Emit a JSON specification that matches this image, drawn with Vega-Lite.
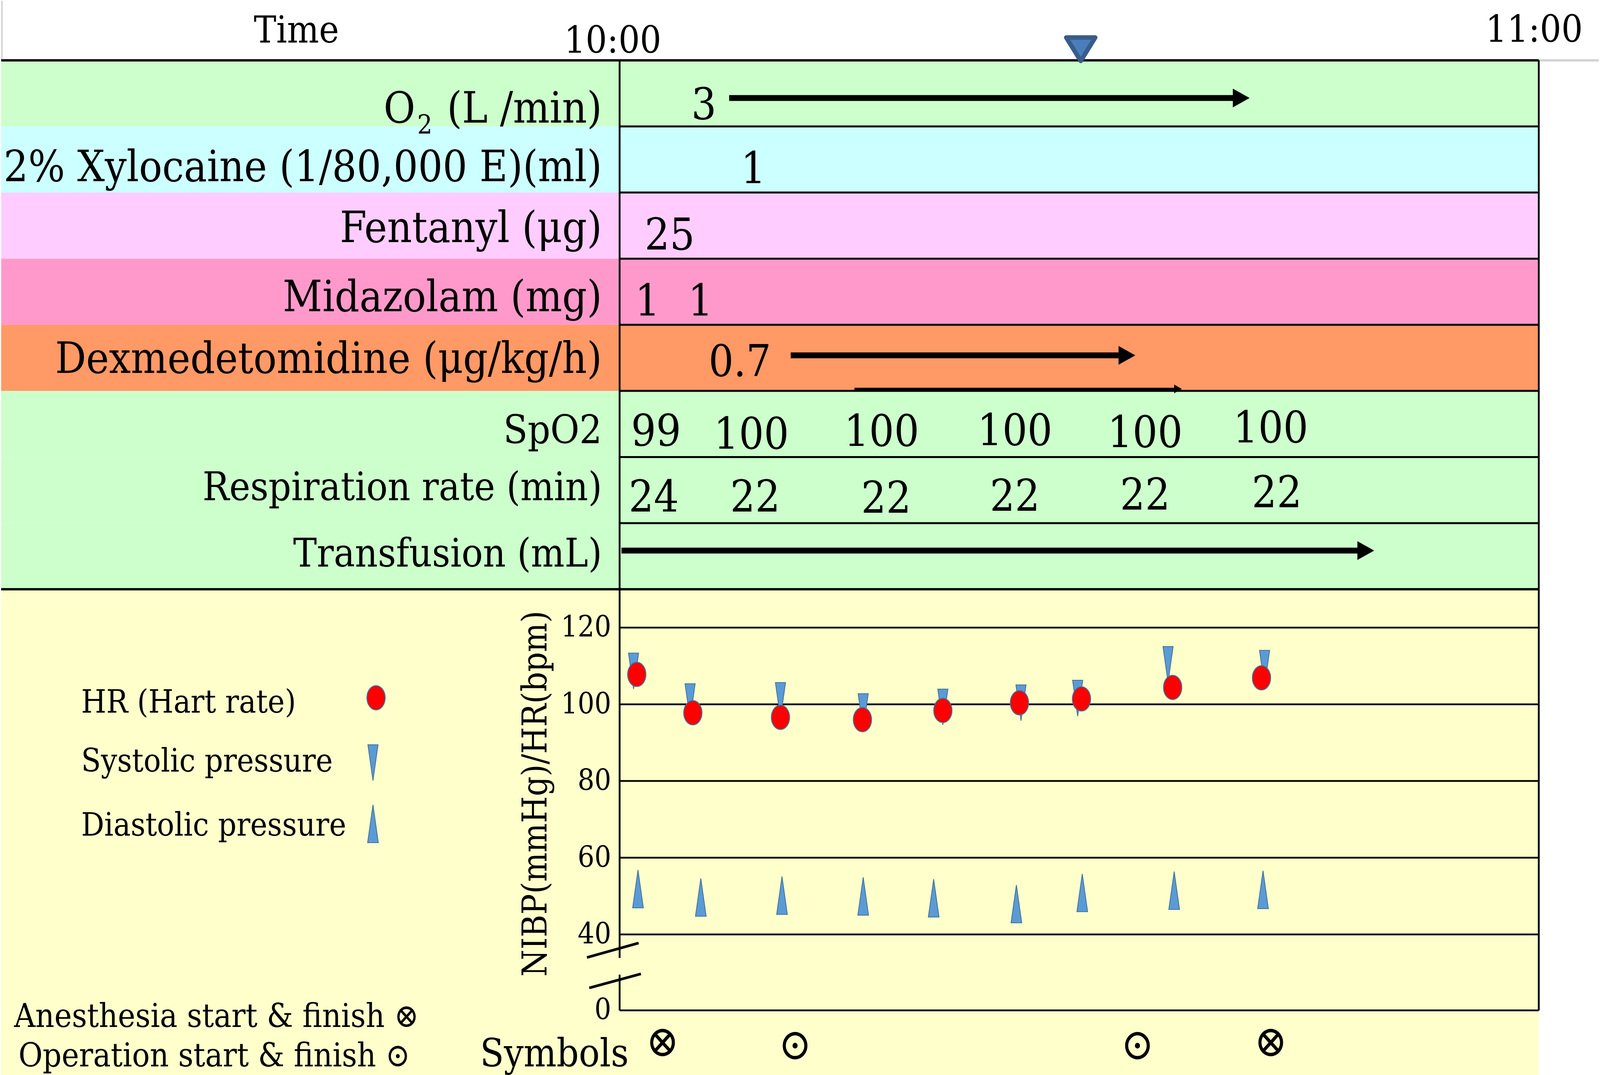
{
  "$schema": "https://vega.github.io/schema/vega-lite/v6.json",
  "width": 4096,
  "height": 2753,
  "autosize": {"type": "fit", "contains": "padding"},
  "padding": 0,
  "background": "white",
  "config": {
    "view": {"stroke": null},
    "text": {"font": "'DejaVu Serif Condensed', 'DejaVu Serif', serif", "color": "black"}
  },
  "resolve": {"scale": {"y": "independent"}},
  "datasets": {
    "rows": [
      {"item": "O2", "top": 0.9, "bottom": 1.9},
      {"item": "Xylocaine", "top": 1.9, "bottom": 2.9},
      {"item": "Fentanyl", "top": 2.9, "bottom": 3.9},
      {"item": "Midazolam", "top": 3.9, "bottom": 4.9},
      {"item": "Dexmedetomidine", "top": 4.9, "bottom": 5.9},
      {"item": "SpO2", "top": 5.9, "bottom": 6.9},
      {"item": "Respiration rate", "top": 6.9, "bottom": 7.9},
      {"item": "Transfusion", "top": 7.9, "bottom": 8.9}
    ],
    "frame": [{"t": 0}, {"t": 60}],
    "header": [
      {"text": "Time", "t": -21.1, "base": 0.632},
      {"text": "10:00", "t": -0.45, "base": 0.785},
      {"text": "11:00", "t": 59.7, "base": 0.62}
    ],
    "marker": [{"t": 30.1, "base": 0.91}],
    "labelsTop": [
      {"text": "(L /min)", "base": 1.843},
      {"text": "2% Xylocaine (1/80,000 E)(ml)", "base": 2.728},
      {"text": "Fentanyl (μg)", "base": 3.65},
      {"text": "Midazolam (mg)", "base": 4.695},
      {"text": "Dexmedetomidine (μg/kg/h)", "base": 5.628}
    ],
    "labelsGreen": [
      {"text": "SpO2", "base": 6.691},
      {"text": "Respiration rate (min)", "base": 7.553},
      {"text": "Transfusion (mL)", "base": 8.557}
    ],
    "o2O": [{"text": "O", "t": -13.34, "base": 1.843}],
    "o2Sub": [{"text": "2", "t": -12.72, "base": 2.008}],
    "tvals": [
      {"item": "O2", "t": 5.5, "base": 1.789, "text": "3"},
      {"item": "Xylocaine", "t": 8.73, "base": 2.758, "text": "1"},
      {"item": "Fentanyl", "t": 3.27, "base": 3.762, "text": "25"},
      {"item": "Midazolam", "t": 1.82, "base": 4.76, "text": "1"},
      {"item": "Midazolam", "t": 5.28, "base": 4.76, "text": "1"},
      {"item": "Dexmedetomidine", "t": 7.85, "base": 5.675, "text": "0.7"},
      {"item": "SpO2", "t": 2.38, "base": 6.727, "text": "99"},
      {"item": "SpO2", "t": 8.6, "base": 6.774, "text": "100"},
      {"item": "SpO2", "t": 17.1, "base": 6.732, "text": "100"},
      {"item": "SpO2", "t": 25.8, "base": 6.718, "text": "100"},
      {"item": "SpO2", "t": 34.3, "base": 6.75, "text": "100"},
      {"item": "SpO2", "t": 42.5, "base": 6.679, "text": "100"},
      {"item": "Respiration rate", "t": 2.23, "base": 7.725, "text": "24"},
      {"item": "Respiration rate", "t": 8.85, "base": 7.725, "text": "22"},
      {"item": "Respiration rate", "t": 17.4, "base": 7.742, "text": "22"},
      {"item": "Respiration rate", "t": 25.8, "base": 7.713, "text": "22"},
      {"item": "Respiration rate", "t": 34.3, "base": 7.692, "text": "22"},
      {"item": "Respiration rate", "t": 42.9, "base": 7.66, "text": "22"}
    ],
    "arrows": [
      {"item": "O2", "t": 7.15, "t2": 40.03, "y": 1.47},
      {"item": "Dexmedetomidine", "t": 11.17, "t2": 32.57, "y": 5.362},
      {"item": "Transfusion", "t": 0.12, "t2": 48.16, "y": 8.315}
    ],
    "thinArrow": [{"item": "Dexmedetomidine", "t": 15.33, "t2": 36.2, "y": 5.87}],
    "ticks": [
      {"v": 120, "label": "120"},
      {"v": 100, "label": "100"},
      {"v": 80, "label": "80"},
      {"v": 60, "label": "60"},
      {"v": 40, "label": "40"},
      {"v": 0, "label": "0"}
    ],
    "axisline": [
      {"t": 0, "v": 130, "v2": 27.6},
      {"t": 0, "v": 18.8, "v2": 0},
      {"t": 60, "v": 130, "v2": 0}
    ],
    "breaks": [
      {"t": -2.13, "v": 27.86, "t2": 1.24, "v2": 35.47},
      {"t": -1.98, "v": 11.81, "t2": 1.39, "v2": 19.2}
    ],
    "ytitle": [{"text": "NIBP(mmHg)/HR(bpm)", "t": -5.43, "v": 76.7}],
    "legendText": [
      {"text": "HR (Hart rate)", "v": 97.8},
      {"text": "Systolic pressure", "v": 82.5},
      {"text": "Diastolic pressure", "v": 65.75}
    ],
    "legHR": [{"t": -15.9, "v": 101.7}],
    "legSys": [{"t": -16.1, "v": 80.1}],
    "legDia": [{"t": -16.1, "v": 73.8}],
    "hr": [
      {"t": 1.12, "v": 107.8}, {"t": 4.78, "v": 97.8}, {"t": 10.5, "v": 96.6},
      {"t": 15.85, "v": 96.0}, {"t": 21.1, "v": 98.4}, {"t": 26.1, "v": 100.4},
      {"t": 30.15, "v": 101.4}, {"t": 36.1, "v": 104.4}, {"t": 41.9, "v": 106.9}
    ],
    "sys": [
      {"t": 0.91, "v": 104.0}, {"t": 4.6, "v": 96.0}, {"t": 10.5, "v": 96.3},
      {"t": 15.9, "v": 93.4}, {"t": 21.1, "v": 94.6}, {"t": 26.2, "v": 95.7},
      {"t": 29.9, "v": 96.9}, {"t": 35.8, "v": 105.7}, {"t": 42.1, "v": 104.7}
    ],
    "dia": [
      {"t": 1.2, "v": 56.8}, {"t": 5.3, "v": 54.6}, {"t": 10.6, "v": 55.1},
      {"t": 15.9, "v": 54.9}, {"t": 20.5, "v": 54.4}, {"t": 25.9, "v": 52.9},
      {"t": 30.2, "v": 55.8}, {"t": 36.2, "v": 56.4}, {"t": 42.0, "v": 56.6}
    ],
    "bottomText": [
      {"text": "Anesthesia start & finish ⊗", "t": -39.53, "v": -8.77},
      {"text": "Operation start & finish ⊙", "t": -39.24, "v": -29.6}
    ],
    "symbolsLabel": [{"text": "Symbols", "t": -4.26, "v": -29.6}],
    "events": [
      {"event": "Anesthesia start", "t": 2.8, "sym": "⊗", "v": -17.2},
      {"event": "Operation start", "t": 11.45, "sym": "⊙", "v": -18.85},
      {"event": "Operation finish", "t": 33.8, "sym": "⊙", "v": -18.85},
      {"event": "Anesthesia finish", "t": 42.5, "sym": "⊗", "v": -17.2}
    ]
  },
  "layer": [
    {
      "data": {"name": "rows"},
      "mark": {"type": "rect"},
      "encoding": {
        "x": {"datum": -40.37, "type": "quantitative", "scale": {"domain": [-40.37, 63.92], "nice": false, "zero": false}, "axis": null},
        "x2": {"datum": 60},
        "y": {"field": "top", "type": "quantitative", "scale": {"domain": [0, 16.258], "range": [0, 2753], "nice": false, "zero": false}, "axis": null},
        "y2": {"field": "bottom"},
        "fill": {"field": "item", "type": "nominal", "legend": null,
          "scale": {"domain": ["O2", "Xylocaine", "Fentanyl", "Midazolam", "Dexmedetomidine", "SpO2", "Respiration rate", "Transfusion"],
                    "range": ["#CCFFCC", "#CCFFFF", "#FFCCFF", "#FF99CC", "#FF9966", "#CCFFCC", "#CCFFCC", "#CCFFCC"]}}
      }
    },
    {
      "data": {"name": "rows"},
      "transform": [{"filter": "datum.top > 1"}],
      "mark": {"type": "rule", "color": "black", "strokeWidth": 5},
      "encoding": {
        "x": {"datum": 0, "type": "quantitative"},
        "x2": {"datum": 60},
        "y": {"field": "top", "type": "quantitative", "scale": {"domain": [0, 16.258], "range": [0, 2753], "nice": false, "zero": false}, "axis": null}
      }
    },
    {
      "data": {"name": "rows"},
      "transform": [{"filter": "datum.top < 1"}],
      "mark": {"type": "rule", "color": "#D3D3D3", "strokeWidth": 6},
      "encoding": {
        "x": {"datum": 60, "type": "quantitative"},
        "x2": {"datum": 63.92},
        "y": {"field": "top", "type": "quantitative", "scale": {"domain": [0, 16.258], "range": [0, 2753], "nice": false, "zero": false}, "axis": null}
      }
    },
    {
      "data": {"name": "rows"},
      "transform": [{"filter": "datum.top < 1"}],
      "mark": {"type": "rule", "color": "#D3D3D3", "strokeWidth": 3.8},
      "encoding": {
        "x": {"datum": -40.32, "type": "quantitative"},
        "y": {"field": "top", "type": "quantitative", "scale": {"domain": [0, 16.258], "range": [0, 2753], "nice": false, "zero": false}, "axis": null},
        "y2": {"datum": 0}
      }
    },
    {
      "data": {"name": "rows"},
      "transform": [{"filter": "datum.top < 1"}],
      "mark": {"type": "rule", "color": "black", "strokeWidth": 6},
      "encoding": {
        "x": {"datum": -40.37, "type": "quantitative"},
        "x2": {"datum": 60},
        "y": {"field": "top", "type": "quantitative", "scale": {"domain": [0, 16.258], "range": [0, 2753], "nice": false, "zero": false}, "axis": null}
      }
    },
    {
      "data": {"name": "frame"},
      "mark": {"type": "rule", "color": "black", "strokeWidth": 4.7},
      "encoding": {
        "x": {"field": "t", "type": "quantitative"},
        "y": {"datum": 0.9, "type": "quantitative", "scale": {"domain": [0, 16.258], "range": [0, 2753], "nice": false, "zero": false}, "axis": null},
        "y2": {"datum": 8.9}
      }
    },
    {
      "data": {"name": "header"},
      "mark": {"type": "text", "fontSize": 96, "align": "center", "baseline": "alphabetic"},
      "encoding": {
        "x": {"field": "t", "type": "quantitative"},
        "y": {"field": "base", "type": "quantitative", "scale": {"domain": [0, 16.258], "range": [0, 2753], "nice": false, "zero": false}, "axis": null},
        "text": {"field": "text"}
      }
    },
    {
      "data": {"name": "marker"},
      "mark": {"type": "point", "shape": "M-0.62,-1L0.62,-1L0,0Z", "size": 14400, "filled": true, "fill": "#4A7EBB", "stroke": "#385D8A", "strokeWidth": 11.5, "strokeJoin": "round", "opacity": 1},
      "encoding": {
        "x": {"field": "t", "type": "quantitative"},
        "y": {"field": "base", "type": "quantitative", "scale": {"domain": [0, 16.258], "range": [0, 2753], "nice": false, "zero": false}, "axis": null}
      }
    },
    {
      "data": {"name": "labelsTop"},
      "mark": {"type": "text", "fontSize": 110, "align": "right", "baseline": "alphabetic"},
      "encoding": {
        "x": {"datum": -1.15, "type": "quantitative"},
        "y": {"field": "base", "type": "quantitative", "scale": {"domain": [0, 16.258], "range": [0, 2753], "nice": false, "zero": false}, "axis": null},
        "text": {"field": "text"}
      }
    },
    {
      "data": {"name": "o2O"},
      "mark": {"type": "text", "fontSize": 110, "align": "right", "baseline": "alphabetic"},
      "encoding": {
        "x": {"field": "t", "type": "quantitative"},
        "y": {"field": "base", "type": "quantitative", "scale": {"domain": [0, 16.258], "range": [0, 2753], "nice": false, "zero": false}, "axis": null},
        "text": {"field": "text"}
      }
    },
    {
      "data": {"name": "o2Sub"},
      "mark": {"type": "text", "fontSize": 68, "align": "center", "baseline": "alphabetic"},
      "encoding": {
        "x": {"field": "t", "type": "quantitative"},
        "y": {"field": "base", "type": "quantitative", "scale": {"domain": [0, 16.258], "range": [0, 2753], "nice": false, "zero": false}, "axis": null},
        "text": {"field": "text"}
      }
    },
    {
      "data": {"name": "labelsGreen"},
      "mark": {"type": "text", "fontSize": 101, "align": "right", "baseline": "alphabetic"},
      "encoding": {
        "x": {"datum": -1.15, "type": "quantitative"},
        "y": {"field": "base", "type": "quantitative", "scale": {"domain": [0, 16.258], "range": [0, 2753], "nice": false, "zero": false}, "axis": null},
        "text": {"field": "text"}
      }
    },
    {
      "data": {"name": "tvals"},
      "mark": {"type": "text", "fontSize": 112, "align": "center", "baseline": "alphabetic"},
      "encoding": {
        "x": {"field": "t", "type": "quantitative"},
        "y": {"field": "base", "type": "quantitative", "scale": {"domain": [0, 16.258], "range": [0, 2753], "nice": false, "zero": false}, "axis": null},
        "text": {"field": "text"}
      }
    },
    {
      "data": {"name": "arrows"},
      "mark": {"type": "rule", "color": "black", "strokeWidth": 15},
      "encoding": {
        "x": {"field": "t", "type": "quantitative"},
        "x2": {"field": "t2"},
        "y": {"field": "y", "type": "quantitative", "scale": {"domain": [0, 16.258], "range": [0, 2753], "nice": false, "zero": false}, "axis": null}
      }
    },
    {
      "data": {"name": "arrows"},
      "mark": {"type": "point", "shape": "M0,-1L1.79,0L0,1Z", "size": 2304, "filled": true, "color": "black", "opacity": 1},
      "encoding": {
        "x": {"field": "t2", "type": "quantitative"},
        "y": {"field": "y", "type": "quantitative", "scale": {"domain": [0, 16.258], "range": [0, 2753], "nice": false, "zero": false}, "axis": null}
      }
    },
    {
      "data": {"name": "thinArrow"},
      "mark": {"type": "rule", "color": "black", "strokeWidth": 6},
      "encoding": {
        "x": {"field": "t", "type": "quantitative"},
        "x2": {"field": "t2"},
        "y": {"field": "y", "type": "quantitative", "scale": {"domain": [0, 16.258], "range": [0, 2753], "nice": false, "zero": false}, "axis": null}
      }
    },
    {
      "data": {"name": "thinArrow"},
      "mark": {"type": "point", "shape": "M0,-1L1.79,0L0,1Z", "size": 484, "filled": true, "color": "black", "opacity": 1},
      "encoding": {
        "x": {"field": "t2", "type": "quantitative"},
        "y": {"field": "y", "type": "quantitative", "scale": {"domain": [0, 16.258], "range": [0, 2753], "nice": false, "zero": false}, "axis": null}
      }
    },
    {
      "data": {"values": [{}]},
      "mark": {"type": "rect", "color": "#FFFFCC", "clip": true},
      "encoding": {
        "x": {"datum": -40.37, "type": "quantitative"},
        "x2": {"datum": 60},
        "y": {"datum": 130, "type": "quantitative", "scale": {"domain": [0, 40, 130], "range": [2585.4, 2391, 1507], "nice": false, "zero": false}, "axis": null},
        "y2": {"datum": -34.4}
      }
    },
    {
      "data": {"values": [{}]},
      "mark": {"type": "rule", "color": "black", "strokeWidth": 6},
      "encoding": {
        "x": {"datum": -40.37, "type": "quantitative"},
        "x2": {"datum": 60},
        "y": {"datum": 130, "type": "quantitative", "scale": {"domain": [0, 40, 130], "range": [2585.4, 2391, 1507], "nice": false, "zero": false}, "axis": null}
      }
    },
    {
      "data": {"name": "ticks"},
      "mark": {"type": "rule", "color": "black", "strokeWidth": 4.5},
      "encoding": {
        "x": {"datum": 0, "type": "quantitative"},
        "x2": {"datum": 60},
        "y": {"field": "v", "type": "quantitative", "scale": {"domain": [0, 40, 130], "range": [2585.4, 2391, 1507], "nice": false, "zero": false}, "axis": null}
      }
    },
    {
      "data": {"name": "ticks"},
      "mark": {"type": "text", "fontSize": 75, "align": "right", "baseline": "middle"},
      "encoding": {
        "x": {"datum": -0.55, "type": "quantitative"},
        "y": {"field": "v", "type": "quantitative", "scale": {"domain": [0, 40, 130], "range": [2585.4, 2391, 1507], "nice": false, "zero": false}, "axis": null},
        "text": {"field": "label"}
      }
    },
    {
      "data": {"name": "axisline"},
      "mark": {"type": "rule", "color": "black", "strokeWidth": 4.7},
      "encoding": {
        "x": {"field": "t", "type": "quantitative"},
        "y": {"field": "v", "type": "quantitative", "scale": {"domain": [0, 40, 130], "range": [2585.4, 2391, 1507], "nice": false, "zero": false}, "axis": null},
        "y2": {"field": "v2"}
      }
    },
    {
      "data": {"name": "breaks"},
      "mark": {"type": "rule", "color": "black", "strokeWidth": 6.8},
      "encoding": {
        "x": {"field": "t", "type": "quantitative"},
        "x2": {"field": "t2"},
        "y": {"field": "v", "type": "quantitative", "scale": {"domain": [0, 40, 130], "range": [2585.4, 2391, 1507], "nice": false, "zero": false}, "axis": null},
        "y2": {"field": "v2"}
      }
    },
    {
      "data": {"name": "ytitle"},
      "mark": {"type": "text", "fontSize": 88, "angle": 270, "align": "center", "baseline": "middle"},
      "encoding": {
        "x": {"field": "t", "type": "quantitative"},
        "y": {"field": "v", "type": "quantitative", "scale": {"domain": [0, 40, 130], "range": [2585.4, 2391, 1507], "nice": false, "zero": false}, "axis": null},
        "text": {"field": "text"}
      }
    },
    {
      "data": {"name": "legendText"},
      "mark": {"type": "text", "fontSize": 82, "align": "left", "baseline": "alphabetic"},
      "encoding": {
        "x": {"datum": -35.15, "type": "quantitative"},
        "y": {"field": "v", "type": "quantitative", "scale": {"domain": [0, 40, 130], "range": [2585.4, 2391, 1507], "nice": false, "zero": false}, "axis": null},
        "text": {"field": "text"}
      }
    },
    {
      "data": {"name": "legSys"},
      "mark": {"type": "point", "shape": "M-0.141,-1L0.141,-1L0,0Z", "size": 33856, "filled": true, "fill": "#5B9BD5", "stroke": "#41719C", "strokeWidth": 2, "opacity": 1},
      "encoding": {
        "x": {"field": "t", "type": "quantitative"},
        "y": {"field": "v", "type": "quantitative", "scale": {"domain": [0, 40, 130], "range": [2585.4, 2391, 1507], "nice": false, "zero": false}, "axis": null}
      }
    },
    {
      "data": {"name": "legDia"},
      "mark": {"type": "point", "shape": "M0,0L0.141,1L-0.141,1Z", "size": 37636, "filled": true, "fill": "#5B9BD5", "stroke": "#41719C", "strokeWidth": 2, "opacity": 1},
      "encoding": {
        "x": {"field": "t", "type": "quantitative"},
        "y": {"field": "v", "type": "quantitative", "scale": {"domain": [0, 40, 130], "range": [2585.4, 2391, 1507], "nice": false, "zero": false}, "axis": null}
      }
    },
    {
      "data": {"name": "legHR"},
      "mark": {"type": "point", "shape": "M0,-1A0.752,1,0,1,1,0,1A0.752,1,0,1,1,0,-1Z", "size": 3844, "filled": true, "fill": "#FF0000", "stroke": "#41719C", "strokeWidth": 2.4, "opacity": 1},
      "encoding": {
        "x": {"field": "t", "type": "quantitative"},
        "y": {"field": "v", "type": "quantitative", "scale": {"domain": [0, 40, 130], "range": [2585.4, 2391, 1507], "nice": false, "zero": false}, "axis": null}
      }
    },
    {
      "data": {"name": "sys"},
      "mark": {"type": "point", "shape": "M-0.141,-1L0.141,-1L0,0Z", "size": 33856, "filled": true, "fill": "#5B9BD5", "stroke": "#41719C", "strokeWidth": 2, "opacity": 1},
      "encoding": {
        "x": {"field": "t", "type": "quantitative"},
        "y": {"field": "v", "type": "quantitative", "scale": {"domain": [0, 40, 130], "range": [2585.4, 2391, 1507], "nice": false, "zero": false}, "axis": null}
      }
    },
    {
      "data": {"name": "hr"},
      "mark": {"type": "point", "shape": "M0,-1A0.752,1,0,1,1,0,1A0.752,1,0,1,1,0,-1Z", "size": 3844, "filled": true, "fill": "#FF0000", "stroke": "#41719C", "strokeWidth": 2.4, "opacity": 1},
      "encoding": {
        "x": {"field": "t", "type": "quantitative"},
        "y": {"field": "v", "type": "quantitative", "scale": {"domain": [0, 40, 130], "range": [2585.4, 2391, 1507], "nice": false, "zero": false}, "axis": null}
      }
    },
    {
      "data": {"name": "dia"},
      "mark": {"type": "point", "shape": "M0,0L0.141,1L-0.141,1Z", "size": 37636, "filled": true, "fill": "#5B9BD5", "stroke": "#41719C", "strokeWidth": 2, "opacity": 1},
      "encoding": {
        "x": {"field": "t", "type": "quantitative"},
        "y": {"field": "v", "type": "quantitative", "scale": {"domain": [0, 40, 130], "range": [2585.4, 2391, 1507], "nice": false, "zero": false}, "axis": null}
      }
    },
    {
      "data": {"name": "bottomText"},
      "mark": {"type": "text", "fontSize": 84, "align": "left", "baseline": "alphabetic", "clip": true},
      "encoding": {
        "x": {"field": "t", "type": "quantitative"},
        "y": {"field": "v", "type": "quantitative", "scale": {"domain": [0, 40, 130], "range": [2585.4, 2391, 1507], "nice": false, "zero": false}, "axis": null},
        "text": {"field": "text"}
      }
    },
    {
      "data": {"name": "symbolsLabel"},
      "mark": {"type": "text", "fontSize": 99, "align": "center", "baseline": "alphabetic", "clip": true},
      "encoding": {
        "x": {"field": "t", "type": "quantitative"},
        "y": {"field": "v", "type": "quantitative", "scale": {"domain": [0, 40, 130], "range": [2585.4, 2391, 1507], "nice": false, "zero": false}, "axis": null},
        "text": {"field": "text"}
      }
    },
    {
      "data": {"name": "events"},
      "mark": {"type": "text", "fontSize": 112, "align": "center", "baseline": "middle", "clip": true},
      "encoding": {
        "x": {"field": "t", "type": "quantitative"},
        "y": {"field": "v", "type": "quantitative", "scale": {"domain": [0, 40, 130], "range": [2585.4, 2391, 1507], "nice": false, "zero": false}, "axis": null},
        "text": {"field": "sym"}
      }
    }
  ]
}
